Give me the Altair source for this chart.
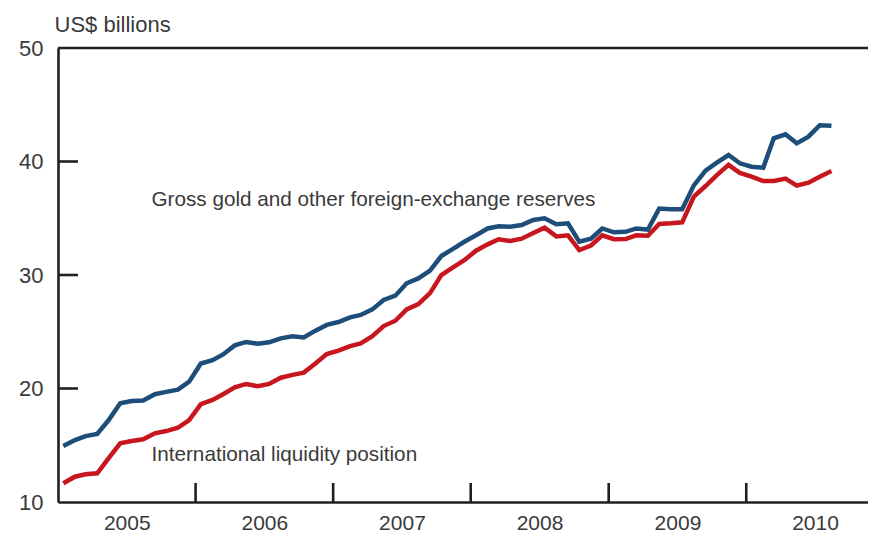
import altair as alt
import pandas as pd

# ---- data (monthly, Jan 2005 - Aug 2010), US$ billions ----
months = [f"{y}-{m:02d}-15" for y in range(2005, 2011) for m in range(1, 13)][:68]

gross_reserves = [14.93, 15.46, 15.81, 15.99, 17.2, 18.7, 18.9, 18.95, 19.5, 19.7, 19.9, 20.6,
                  22.2, 22.5, 23.0, 23.8, 24.1, 23.95, 24.07, 24.42, 24.6, 24.5, 25.1, 25.6,
                  25.86, 26.27, 26.48, 26.97, 27.8, 28.18, 29.27, 29.7, 30.38, 31.67, 32.3, 32.93,
                  33.5, 34.1, 34.3, 34.25, 34.4, 34.85, 35.0, 34.47, 34.55, 32.93, 33.2, 34.1,
                  33.76, 33.8, 34.1, 34.0, 35.85, 35.8, 35.8, 37.9, 39.2, 39.9, 40.57, 39.84,
                  39.54, 39.45, 42.04, 42.4, 41.6, 42.19, 43.2, 43.15]

liquidity = [11.65, 12.23, 12.44, 12.53, 13.85, 15.17, 15.37, 15.52, 16.05, 16.25, 16.54, 17.22,
             18.63, 18.99, 19.5, 20.1, 20.4, 20.2, 20.4, 20.95, 21.2, 21.4, 22.2, 23.04,
             23.33, 23.74, 23.98, 24.6, 25.5, 25.97, 26.97, 27.44, 28.4, 30.0, 30.68, 31.3,
             32.14, 32.7, 33.15, 33.0, 33.2, 33.7, 34.17, 33.4, 33.5, 32.2, 32.6, 33.5,
             33.15, 33.17, 33.5, 33.46, 34.5, 34.55, 34.64, 36.9, 37.84, 38.8, 39.7, 39.0,
             38.66, 38.28, 38.28, 38.5, 37.87, 38.13, 38.66, 39.16]

series_names = ["Gross gold and other foreign-exchange reserves", "International liquidity position"]
series_colors = ["#1d4e7a", "#c8161e"]

year_starts = [2005, 2006, 2007, 2008, 2009, 2010]
y_ticks = [10, 20, 30, 40, 50]
inner_y_ticks = [20, 30, 40]

annotations = [
    {"text": series_names[0], "date": "2005-09-06", "value": 36.6},
    {"text": series_names[1], "date": "2005-09-06", "value": 14.15},
]

# ---- layout ----
W, H = 810, 454
FONT = "Liberation Sans"
TXT = "#3a3a3a"
AX = "#231f20"

df = pd.DataFrame({
    "date": months * 2,
    "value": gross_reserves + liquidity,
    "series": [series_names[0]] * 68 + [series_names[1]] * 68,
})
df_years = pd.DataFrame({"date": [f"{y}-01-01" for y in year_starts[1:]]})
df_yt = pd.DataFrame({"value": inner_y_ticks})
df_top = pd.DataFrame({"value": [50]})
df_ann = pd.DataFrame(annotations)

xscale = alt.Scale(type="utc",
                   domain=[alt.DateTime(year=2005, month=1, date=1, utc=True),
                           alt.DateTime(year=2010, month=11, date=20, utc=True)])
xaxis = alt.Axis(values=[alt.DateTime(year=y, month=1, date=1, utc=True) for y in year_starts],
                 format="%Y", formatType="utc", ticks=False, labelOffset=68.8,
                 labelPadding=10, labelFlush=False, labelOverlap=False, labelBound=False,
                 domainColor=AX, domainWidth=2.6, labelFont=FONT, labelFontSize=21,
                 labelColor=TXT, grid=False)
yscale = alt.Scale(domain=[10, 50], nice=False, zero=False)
yaxis = alt.Axis(values=y_ticks, ticks=False, labelPadding=15, domainColor=AX, domainWidth=2.6,
                 labelFont=FONT, labelFontSize=22, labelColor=TXT, grid=False,
                 title="US$ billions", titleAngle=0, titleAlign="left", titleBaseline="alphabetic",
                 titleX=-4, titleY=-17, titleFont=FONT, titleFontSize=22,
                 titleFontWeight="normal", titleColor=TXT)

X = alt.X("date:T", scale=xscale, axis=xaxis, title=None)
Y = alt.Y("value:Q", scale=yscale, axis=yaxis)

lines = alt.Chart(df).mark_line(strokeWidth=4.5, strokeJoin="miter").encode(
    x=X, y=Y,
    color=alt.Color("series:N", scale=alt.Scale(domain=series_names, range=series_colors), legend=None),
    order=alt.Order("date:T"),
    detail="series:N",
)

top_border = alt.Chart(df_top).mark_rule(color=AX, strokeWidth=2.6).encode(
    y=Y, x=alt.value(0), x2=alt.value(W))

year_ticks = alt.Chart(df_years).mark_rule(color=AX, strokeWidth=2.6).encode(
    x=X, y=alt.value(H), y2=alt.value(H - 19))

val_ticks = alt.Chart(df_yt).mark_rule(color=AX, strokeWidth=2.6).encode(
    y=Y, x=alt.value(0), x2=alt.value(20))

labels = alt.Chart(df_ann).mark_text(align="left", baseline="middle", font=FONT,
                                      fontSize=20.7, color=TXT).encode(
    x=X, y=Y, text="text:N")

chart = alt.layer(lines, top_border, year_ticks, val_ticks, labels).properties(
    width=W, height=H,
    autosize=alt.AutoSizeParams(type="none"),
    padding={"left": 50, "top": 40, "right": 0, "bottom": 30},
).configure_view(stroke=None).configure(background="white")

chart.save("out.html", embed_options={"renderer": "svg", "actions": False})
